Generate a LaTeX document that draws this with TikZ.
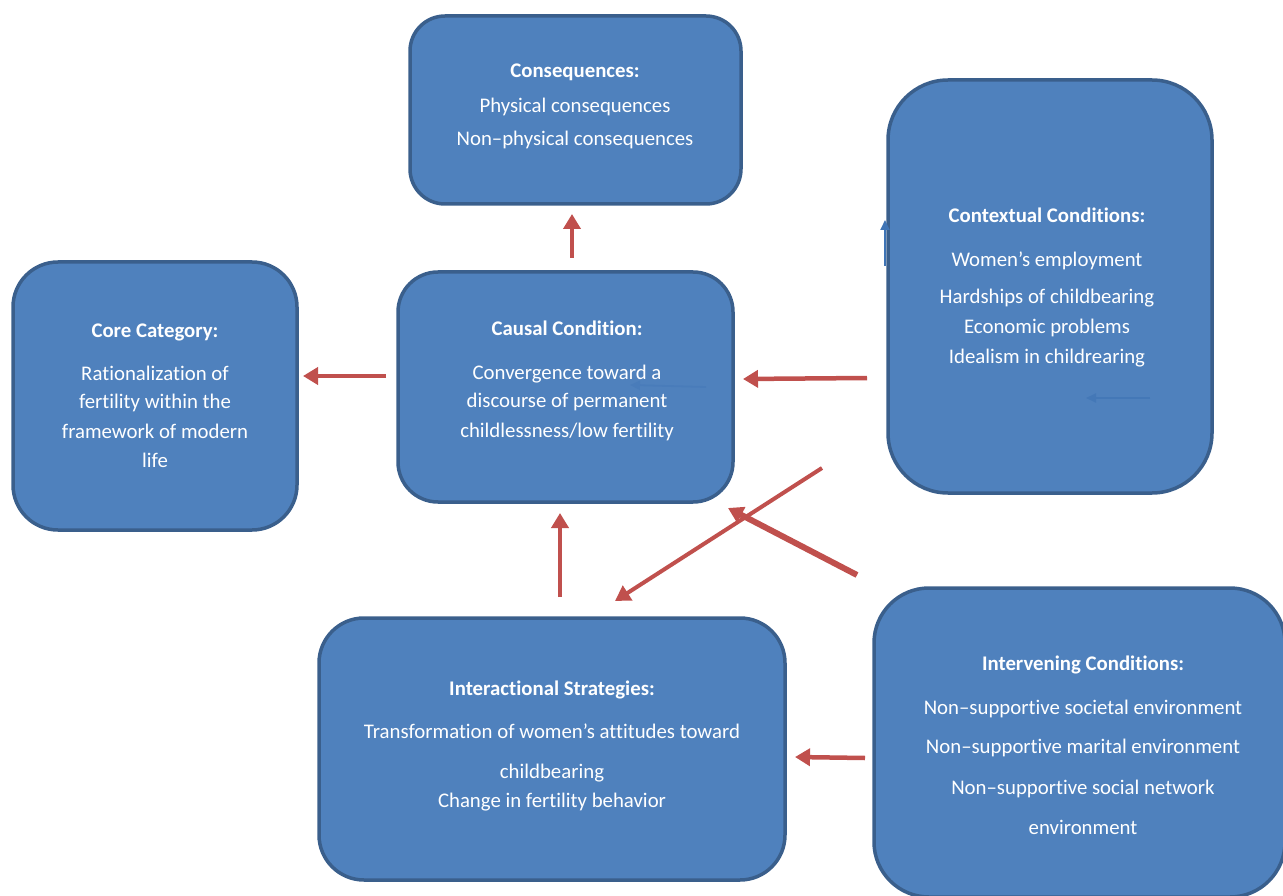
\documentclass[tikz,border=0pt]{standalone}
\usepackage{fontspec}
\setmainfont{Carlito}[Ligatures={TeX,NoCommon}]
\usetikzlibrary{arrows.meta}
\definecolor{boxfill}{HTML}{4F81BD}
\definecolor{boxline}{HTML}{3A5F8C}
\definecolor{arrowred}{HTML}{C0504D}
\definecolor{faintblue}{HTML}{3F74B5}
\begin{document}
\begin{tikzpicture}[x=1pt,y=-1pt,
  box/.style={draw=boxline, line width=3.5pt, fill=boxfill, rounded corners=#1, inner sep=0pt},
  txt/.style={text=white, align=center, font=\fontsize{20.8}{29}\selectfont, inner sep=0pt},
  redarrow/.style={draw=arrowred, line width=#1, -{Triangle[length=15pt,width=17pt]}},
  bluearrow/.style={draw=faintblue, line width=1.8pt, -{Triangle[length=10pt,width=9pt]}}]
\useasboundingbox (0,0) rectangle (1283,896);

% boxes
\node[box=35pt, minimum width=331pt, minimum height=188pt] (cons) at (575.5,110) {};
\node[box=60pt, minimum width=324pt, minimum height=413pt] (ctx) at (1050,286.5) {};
\node[box=45pt, minimum width=284pt, minimum height=268pt] (core) at (155,396) {};
\node[box=40pt, minimum width=335pt, minimum height=230pt] (causal) at (565.5,387) {};
\node[box=45pt, minimum width=466pt, minimum height=262pt] (inter) at (552,749) {};
\node[box=55pt, minimum width=411pt, minimum height=309pt] (interv) at (1079.5,742.5) {};

% texts
\node[txt] (conslbl) at (575,106) {\textbf{Consequences:}\\[6pt]Physical consequences\\[4pt]Non--physical consequences};
\node[txt] (ctxlbl) at (1047,287.5) {\textbf{Contextual Conditions:}\\[15pt]Women’s employment\\[8pt]Hardships of childbearing\\[1pt]Economic problems\\[1pt]Idealism in childrearing};
\node[txt] (corelbl) at (155,396) {\textbf{Core Category:}\\[14pt]Rationalization of\\[-1pt]fertility within the\\[1pt]framework of modern\\life};
\node[txt] (causallbl) at (567,381) {\textbf{Causal Condition:}\\[15pt]Convergence toward a\\[-1pt]discourse of permanent\\[1pt]childlessness/low fertility};
\node[txt] (interlbl) at (552,746) {\textbf{Interactional Strategies:}\\[14pt]Transformation of women’s attitudes toward\\[11pt]childbearing\\Change in fertility behavior};
\node[txt] (intervlbl) at (1083,745) {\textbf{Intervening Conditions:}\\[15pt]Non--supportive societal environment\\[10pt]Non--supportive marital environment\\[12pt]Non--supportive social network\\[11pt]environment};

% arrow end points
\coordinate (a1s) at (572,258); \coordinate (a1e) at (572,214);
\coordinate (a2s) at (386,376); \coordinate (a2e) at (303,376);
\coordinate (a3s) at (867,378); \coordinate (a3e) at (743,379);
\coordinate (a4s) at (560,597); \coordinate (a4e) at (560,513);
\coordinate (a5s) at (865,758); \coordinate (a5e) at (795,757);
\coordinate (a6s) at (822,468); \coordinate (a6e) at (615,601);
\coordinate (a7s) at (857,575); \coordinate (a7e) at (728,508);

\draw[redarrow=4.5pt] (a1s) -- (a1e);
\draw[redarrow=4.5pt] (a2s) -- (a2e);
\draw[redarrow=4.5pt] (a3s) -- (a3e);
\draw[redarrow=4.5pt] (a4s) -- (a4e);
\draw[redarrow=4.5pt] (a5s) -- (a5e);
\draw[redarrow=4pt] (a6s) -- (a6e);
\draw[redarrow=6pt] (a7s) -- (a7e);

% faint blue arrows
\coordinate (b1s) at (885,266); \coordinate (b1e) at (885,220);
\coordinate (b2s) at (1150,398); \coordinate (b2e) at (1086,398);
\coordinate (b3s) at (706,387); \coordinate (b3e) at (630,385);
\draw[bluearrow] (b1s) -- (b1e);
\draw[bluearrow, draw=faintblue!70!boxfill] (b2s) -- (b2e);
\draw[bluearrow, draw=faintblue!40!boxfill] (b3s) -- (b3e);
\end{tikzpicture}
\end{document}
